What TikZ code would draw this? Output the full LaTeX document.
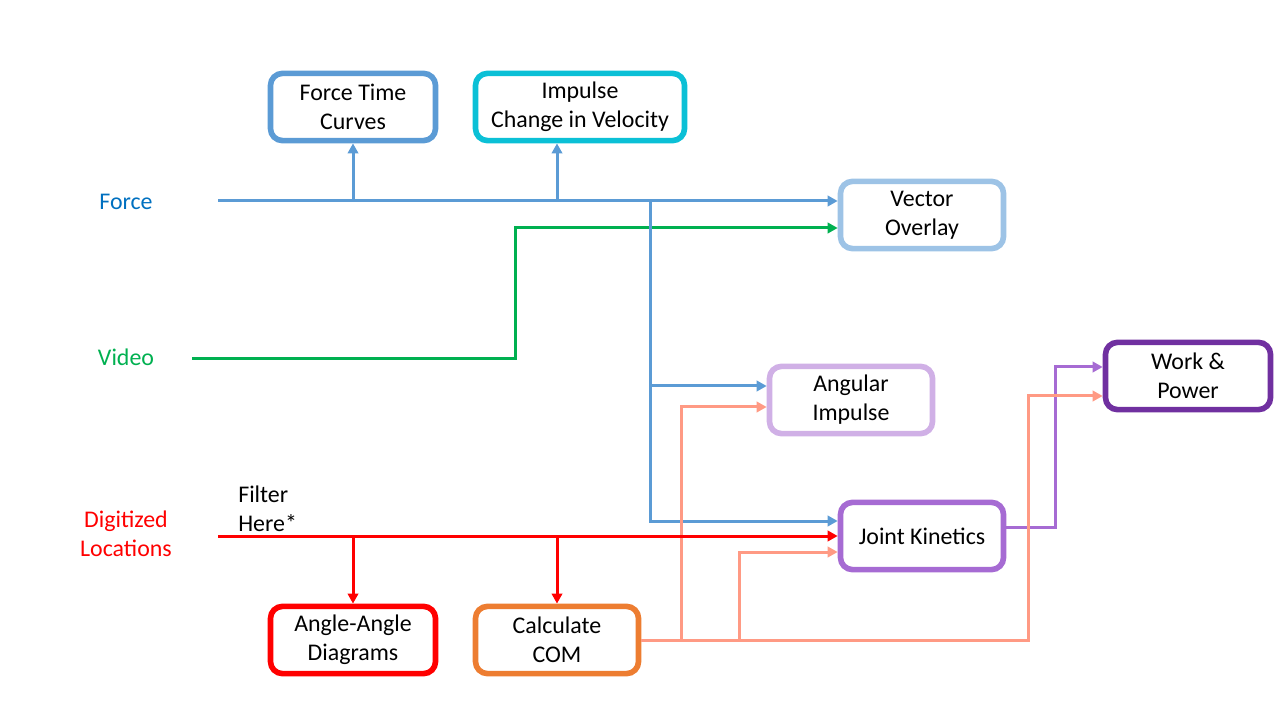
\documentclass[tikz,border=0pt]{standalone}
\usepackage{fontspec}
\setmainfont{Carlito}
\usetikzlibrary{arrows.meta, positioning, calc}
\definecolor{forceblue}{HTML}{5B9BD5}
\definecolor{forcetext}{HTML}{0070C0}
\definecolor{impcyan}{HTML}{0BC0D6}
\definecolor{veclight}{HTML}{9DC3E6}
\definecolor{anglav}{HTML}{D0B0E6}
\definecolor{workpurple}{HTML}{7030A0}
\definecolor{jointpurple}{HTML}{A66BD3}
\definecolor{comorange}{HTML}{ED7D31}
\definecolor{salmon}{HTML}{FF9A84}
\definecolor{videogreen}{HTML}{00B050}
\tikzstyle{block} = [rectangle, rounded corners=0.3cm,
    minimum width=4.075cm, minimum height=1.68cm,
    align=center, line width=0.14cm, fill=white,
    font=\fontsize{17}{20.5}\selectfont]
\tikzstyle{tag} = [align=center, font=\fontsize{17}{20.5}\selectfont]
\tikzstyle{arrow} = [line width=0.075cm, -{Triangle[length=0.25cm,width=0.26cm]}]

\begin{document}
\begin{tikzpicture}[x=0.025cm, y=-0.025cm]
  \useasboundingbox (0,0) rectangle (1280,720);
  % boxes
  \node (ftc)   [block, draw=forceblue, minimum width=4.125cm] at (353,107) {Force Time\\Curves};
  \node (imp)   [block, draw=impcyan, minimum width=5.225cm]   at (580,107) {Impulse\\Change in Velocity};
  \node (vec)   [block, draw=veclight]   at (922,215) {Vector\\Overlay};
  \node (ang)   [block, draw=anglav]     at (851,400) {Angular\\Impulse};
  \node (work)  [block, draw=workpurple, minimum width=4.125cm] at (1188,376) {Work \&\\Power};
  \node (joint) [block, draw=jointpurple] at (922,536) {Joint Kinetics};
  \node (aa)    [block, draw=red, minimum width=4.125cm] at (353,640) {Angle-Angle\\Diagrams};
  \node (com)   [block, draw=comorange]  at (557,640) {Calculate\\COM};

  % inputs
  \node (force)  [tag, text=forcetext]  at (126,202) {Force};
  \node (video)  [tag, text=videogreen] at (126,357) {Video};
  \node (dig)    [tag, text=red]        at (126,534) {Digitized\\Locations};
  \node (filter) [tag, anchor=west, align=left, inner sep=0pt] at (238,509) {Filter\\Here*};
  \coordinate (fin) at (218,201);
  \coordinate (vin) at (192,359);
  \coordinate (din) at (218,536);
  \coordinate (fdrop) at (650,201);
  \coordinate (fimp) at (557,201);
  \coordinate (vturn) at (515,228);

  % video
  \draw[arrow, videogreen] (vin) -| (vturn) -- (vec.west |- vturn);

  % force
  \draw[arrow, forceblue] (fin) -- (vec.west |- fin);
  \draw[arrow, forceblue] (ftc.south |- fin) -- (ftc.south);
  \draw[arrow, forceblue] (fimp) -- (fimp |- imp.south);
  \draw[arrow, forceblue] (fdrop) |- ($(joint.west)+(0,-15)$);
  \draw[arrow, forceblue] ($(fdrop |- ang.west)+(2,-14)$) -- ($(ang.west)+(0,-14)$);

  % joint kinetics to work
  \draw[arrow, jointpurple] ($(joint.east)+(0,-9)$) -- ++(49,0) |- ($(work.west)+(0,-9)$);

  % com
  \draw[arrow, salmon] (com.east) -| (1028,396) -- ($(work.west)+(0,20)$);
  \draw[arrow, salmon] ($(com.east)+(40,0)$) |- ($(ang.west)+(0,7)$);
  \draw[arrow, salmon] ($(com.east)+(98,0)$) |- ($(joint.west)+(0,16)$);

  % digitized
  \draw[arrow, red] (din) -- (joint.west |- din);
  \draw[arrow, red] (aa.north |- din) -- (aa.north);
  \draw[arrow, red] (com.north |- din) -- (com.north);
\end{tikzpicture}
\end{document}
